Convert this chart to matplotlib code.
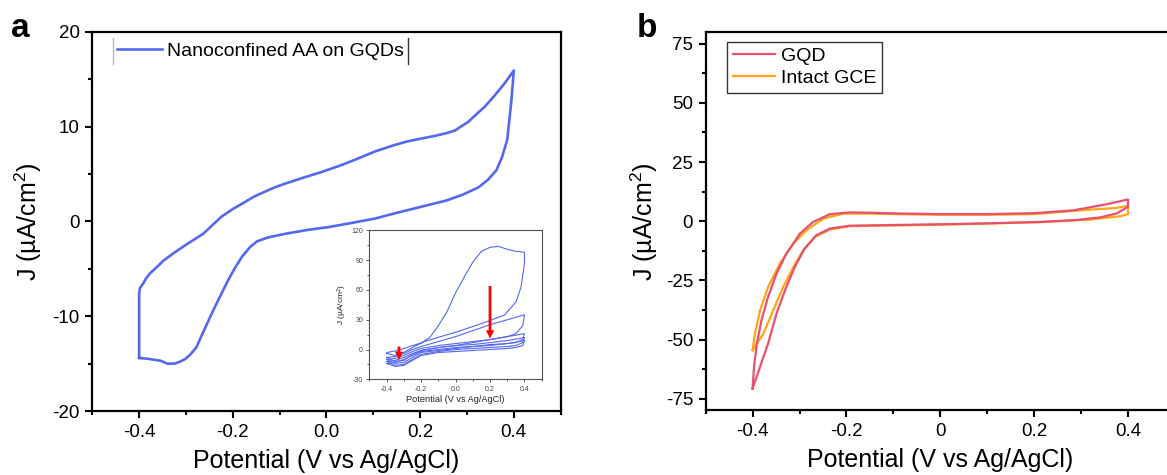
import matplotlib
matplotlib.use("Agg")
import matplotlib.pyplot as plt
from matplotlib.ticker import FixedLocator, MultipleLocator

plt.rcParams["font.family"] = ["Liberation Sans", "DejaVu Sans"]
plt.rcParams["mathtext.fontset"] = "custom"
plt.rcParams["mathtext.rm"] = "Liberation Sans"
plt.rcParams["mathtext.it"] = "Liberation Sans:italic"
plt.rcParams["axes.unicode_minus"] = False

# --- panel a: nanoconfined AA on GQDs (one closed CV loop) ---
a_x = [-0.4, -0.4, -0.398, -0.392, -0.385, -0.377, -0.362, -0.347, -0.325, -0.301,
       -0.263, -0.224, -0.2, -0.179, -0.155, -0.133, -0.11,
       -0.087, -0.05, -0.011, 0.03, 0.066, 0.105, 0.142, 0.17, 0.199, 0.23, 0.256,
       0.275, 0.287, 0.303, 0.318, 0.338, 0.356, 0.378, 0.4,
       0.395, 0.386, 0.375, 0.363, 0.345, 0.325, 0.29, 0.256, 0.199, 0.15, 0.104,
       0.05, 0.005, -0.04, -0.087, -0.125, -0.148,
       -0.163, -0.18, -0.194, -0.21, -0.224, -0.24, -0.255, -0.268, -0.278, -0.29,
       -0.301, -0.313, -0.324, -0.34, -0.354, -0.38, -0.4]
a_y = [-14.4, -7.6, -7.0, -6.6, -6.0, -5.5, -4.8, -4.1, -3.3, -2.5,
       -1.3, 0.5, 1.3, 1.9, 2.6, 3.1, 3.6,
       4.0, 4.6, 5.2, 5.9, 6.6, 7.4, 8.0, 8.4, 8.7, 9.0, 9.3,
       9.6, 10.0, 10.5, 11.2, 12.1, 13.1, 14.4, 15.9,
       12.8, 8.6, 6.8, 5.4, 4.4, 3.6, 2.8, 2.2, 1.5, 0.9, 0.3,
       -0.2, -0.6, -0.9, -1.3, -1.7, -2.1,
       -2.7, -3.7, -4.8, -6.2, -7.6, -9.2, -10.8, -12.2, -13.3, -14.0,
       -14.5, -14.8, -15.0, -15.0, -14.7, -14.5, -14.4]

# inset: successive scans, each loop forward then reverse
ins_fwd_x = [-0.4, -0.35, -0.3, -0.25, -0.2, -0.1, 0.0, 0.1, 0.2, 0.3, 0.4]
ins_rev_x = [0.4, 0.39, 0.35, 0.3, 0.2, 0.1, 0.0, -0.1, -0.2, -0.25, -0.3, -0.35, -0.4]
scan1_x = [-0.4, -0.35, -0.3, -0.25, -0.2, -0.15, -0.1, -0.05, 0.0, 0.05, 0.1, 0.15,
           0.2, 0.25, 0.3, 0.35, 0.4, 0.4, 0.38, 0.351, 0.283, 0.205, 0.107, 0.01,
           -0.088, -0.185, -0.25, -0.3, -0.35, -0.4]
scan1_y = [-3, -1.5, 1, 4, 6.5, 12, 24, 38, 57, 73, 88, 99,
           103, 104, 101, 99, 98, 86.5, 63, 48, 34.7, 29.6, 23.6, 17.9,
           12.9, 7.8, 2, -3, -6, -4]
scan2_y = [-8, -7, -4, 0, 3, 8, 13, 19, 25, 30, 35] + [35, 24, 16, 13, 10, 7, 4, 2, -1, -5, -11, -12, -8]
scan3_y = [-10, -9, -6, -2, 1, 4, 6, 8, 10, 13, 16] + [16, 10, 7, 6, 5, 3, 1, -1, -3, -8, -13, -14, -10]
scan4_y = [-12, -11, -8, -4, -1, 2, 4, 5, 7, 9, 12] + [12, 7, 4, 3, 2, 1, 0, -2, -5, -10, -15, -16, -12]
scan5_y = [-14, -13, -10, -6, -2, 0, 2, 3, 4, 6, 9] + [9, 4, 2, 1, 0, -1, -2, -3, -6, -11, -16, -17, -14]

# --- panel b ---
gqd_x = [-0.4, -0.397, -0.391, -0.381, -0.367, -0.349, -0.328, -0.299, -0.271, -0.235,
         -0.193, -0.15, -0.1, 0.0, 0.1, 0.2, 0.284, 0.355, 0.4,
         0.4, 0.394, 0.376, 0.34, 0.284, 0.212, 0.1, 0.0, -0.1, -0.193,
         -0.235, -0.264, -0.289, -0.31, -0.331, -0.349, -0.367, -0.384, -0.4]
gqd_y = [-70.7, -61.5, -51.7, -41.8, -32.0, -22.1, -13.7, -5.2, -0.3, 3.0,
         3.7, 3.6, 3.3, 3.0, 3.0, 3.4, 4.6, 7.2, 9.2,
         6.3, 5.4, 3.3, 1.6, 0.4, -0.3, -0.9, -1.3, -1.6, -1.9,
         -3.1, -5.9, -11.5, -19.3, -29.2, -39.0, -51.7, -61.5, -70.7]
gce_x = [-0.4, -0.395, -0.384, -0.367, -0.342, -0.313, -0.285, -0.249, -0.207,
         -0.15, -0.1, 0.0, 0.1, 0.2, 0.319, 0.376, 0.4,
         0.4, 0.383, 0.319, 0.212, 0.1, 0.0, -0.1, -0.193,
         -0.235, -0.267, -0.292, -0.313, -0.335, -0.356, -0.377, -0.4]
gce_y = [-54.5, -47.5, -37.6, -27.8, -17.9, -9.4, -3.8, 1.1, 3.2,
         3.2, 3.0, 2.7, 2.7, 3.0, 4.9, 5.6, 6.5,
         3.0, 2.1, 0.7, -0.4, -1.0, -1.5, -1.8, -2.1,
         -3.5, -6.6, -12.3, -19.3, -27.8, -37.6, -47.5, -54.5]

a_xticks = [-0.4, -0.2, 0.0, 0.2, 0.4]
a_xlabels = ["-0.4", "-0.2", "0.0", "0.2", "0.4"]
a_yticks = [-20, -10, 0, 10, 20]
b_xticks = [-0.4, -0.2, 0.0, 0.2, 0.4]
b_xlabels = ["-0.4", "-0.2", "0", "0.2", "0.4"]
b_yticks = [-75, -50, -25, 0, 25, 50, 75]
ins_yticks = [-30, 0, 30, 60, 90, 120]

BLUE = "#5468f0"
PINK = "#e8506f"
ORANGE = "#ffa514"


def style_axes(ax, fs=13.5):
    for s in ax.spines.values():
        s.set_linewidth(1.6)
    ax.tick_params(which="both", direction="out", top=False, right=False,
                   labelsize=fs, width=1.5, pad=4)
    ax.tick_params(which="major", length=5)
    ax.tick_params(which="minor", length=3)


fig = plt.figure(figsize=(11.67, 4.75), dpi=100)

# panel a
ax1 = fig.add_axes([0.0791, 0.1347, 0.4013, 0.7985])
ax1.plot(a_x, a_y, color=BLUE, lw=1.9, label="Nanoconfined AA on GQDs")
ax1.set_xlim(-0.5, 0.5)
ax1.set_ylim(-20, 20)
ax1.xaxis.set_major_locator(FixedLocator(a_xticks))
ax1.set_xticklabels(a_xlabels)
ax1.yaxis.set_major_locator(FixedLocator(a_yticks))
ax1.xaxis.set_minor_locator(MultipleLocator(0.1))
ax1.yaxis.set_minor_locator(MultipleLocator(5))
style_axes(ax1)
ax1.set_xlabel("Potential (V vs Ag/AgCl)", fontsize=18, labelpad=6)
ax1.set_ylabel("J (µA/cm$^{2}$)", fontsize=18, labelpad=6)
leg1 = ax1.legend(loc="upper left", bbox_to_anchor=(0.044, 0.983), borderaxespad=0,
                  fontsize=14, frameon=False, handlelength=2.3, handletextpad=0.3,
                  borderpad=0.2)

# inset
axi = fig.add_axes([0.3165, 0.2015, 0.1477, 0.3133])
axi.plot(scan1_x, scan1_y, color=BLUE, lw=0.8)
for ys in [scan2_y, scan3_y, scan4_y, scan5_y]:
    axi.plot(ins_fwd_x + ins_rev_x, ys, color=BLUE, lw=0.8)
axi.annotate("", xy=(0.2, 11), xytext=(0.2, 64),
             arrowprops=dict(color="red", width=2, headwidth=6, headlength=6, lw=0))
axi.annotate("", xy=(-0.328, -10.5), xytext=(-0.328, 3),
             arrowprops=dict(color="red", width=2, headwidth=6, headlength=6, lw=0))
axi.set_xlim(-0.5, 0.5)
axi.set_ylim(-30, 120)
axi.xaxis.set_major_locator(FixedLocator(a_xticks))
axi.set_xticklabels(a_xlabels)
axi.yaxis.set_major_locator(FixedLocator(ins_yticks))
axi.xaxis.set_minor_locator(MultipleLocator(0.1))
axi.yaxis.set_minor_locator(MultipleLocator(15))
for s in axi.spines.values():
    s.set_linewidth(0.8)
    s.set_color("#555555")
axi.tick_params(which="both", direction="out", labelsize=5, width=0.6,
                colors="#444444", pad=2)
axi.tick_params(which="major", length=2.5)
axi.tick_params(which="minor", length=1.5)
axi.set_xlabel("Potential (V vs Ag/AgCl)", fontsize=6.6, labelpad=2, color="#222222")
axi.set_ylabel("J (µA/cm$^{2}$)", fontsize=6, labelpad=2, color="#222222")

# panel b
ax2 = fig.add_axes([0.6047, 0.1358, 0.4021, 0.797])
ax2.plot(gce_x, gce_y, color=ORANGE, lw=1.6, label="Intact GCE")
ax2.plot(gqd_x, gqd_y, color=PINK, lw=1.6, label="GQD")
ax2.set_xlim(-0.5, 0.5)
ax2.set_ylim(-80, 80)
ax2.xaxis.set_major_locator(FixedLocator(b_xticks))
ax2.set_xticklabels(b_xlabels)
ax2.yaxis.set_major_locator(FixedLocator(b_yticks))
ax2.xaxis.set_minor_locator(MultipleLocator(0.1))
ax2.yaxis.set_minor_locator(MultipleLocator(12.5))
style_axes(ax2)
ax2.set_xlabel("Potential (V vs Ag/AgCl)", fontsize=18, labelpad=6)
ax2.set_ylabel("J (µA/cm$^{2}$)", fontsize=18, labelpad=4)
h, l = ax2.get_legend_handles_labels()
leg2 = ax2.legend(h[::-1], l[::-1], loc="upper left", bbox_to_anchor=(0.045, 0.974),
                  borderaxespad=0, fontsize=14, fancybox=False, edgecolor="#333333",
                  framealpha=1, handlelength=2.2, handletextpad=0.3,
                  labelspacing=0.2, borderpad=0.3)
leg2.get_frame().set_linewidth(1.0)

fig.text(0.009, 1 - 37 / 475, "a", fontsize=24, fontweight="bold", va="baseline")
fig.text(0.546, 1 - 37 / 475, "b", fontsize=24, fontweight="bold", va="baseline")

# Origin-style legend frame in panel a: only side bars
fig.canvas.draw()
bb = leg1.get_window_extent().transformed(fig.transFigure.inverted())
fig.add_artist(plt.Line2D([bb.x0, bb.x0], [bb.y0, bb.y1], color="#bbbbbb", lw=1.0))
fig.add_artist(plt.Line2D([bb.x1, bb.x1], [bb.y0, bb.y1], color="#333333", lw=1.0))

fig.savefig("out.png", dpi=100)
